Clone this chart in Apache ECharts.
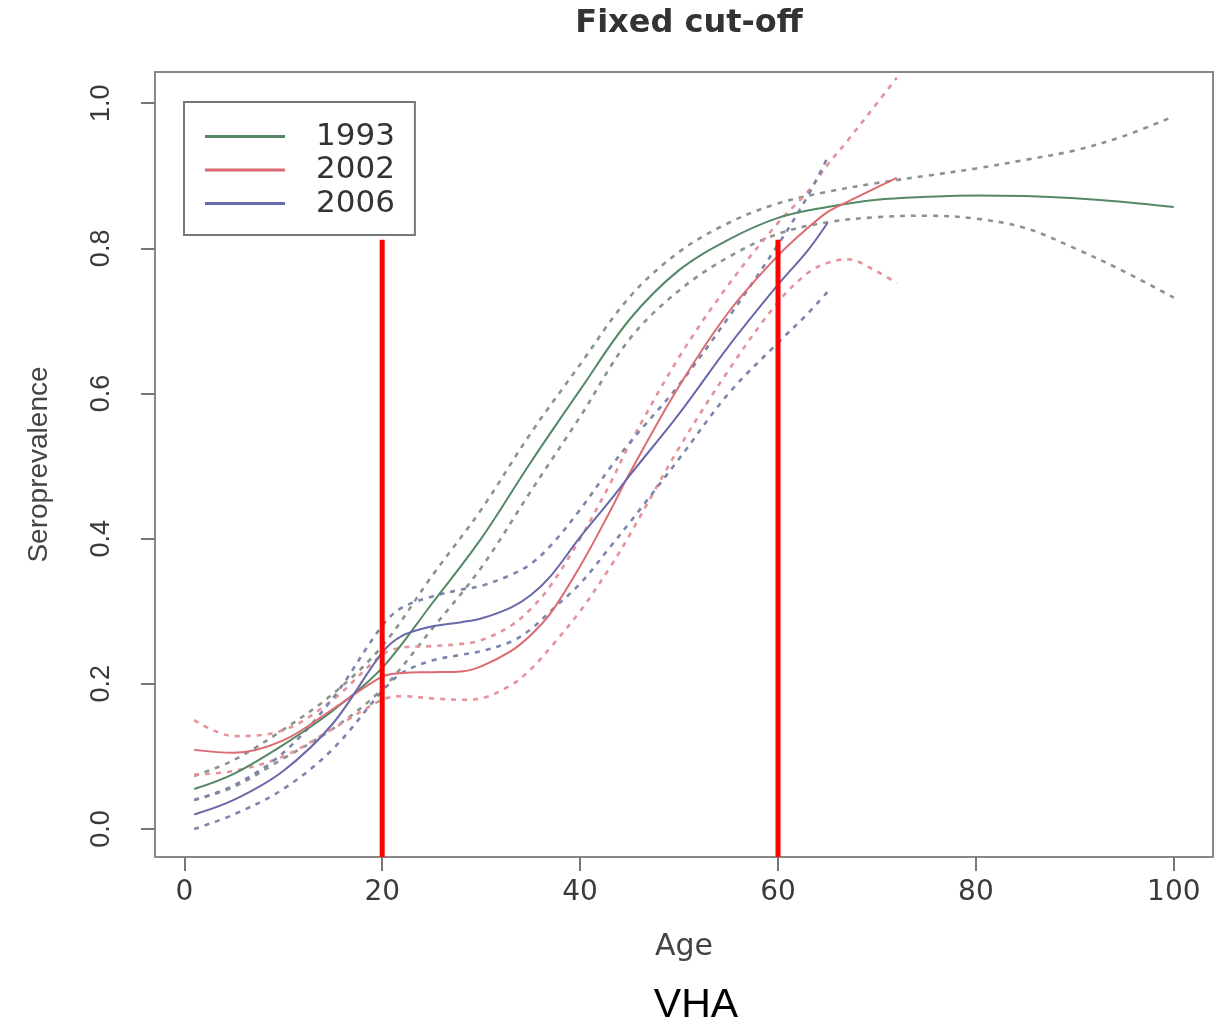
<!DOCTYPE html>
<html>
<head>
<meta charset="utf-8">
<script src="https://cdn.jsdelivr.net/npm/echarts@6/dist/echarts.min.js"></script>
<style>
html,body{margin:0;padding:0;background:#fff;}
#chart{width:1228px;height:1022px;}
</style>
</head>
<body>
<div id="chart"></div>
<script>
// ---- data ----
const xTicks = [0, 20, 40, 60, 80, 100];
const yTicks = [0, 0.2, 0.4, 0.6, 0.8, 1.0];
const cutOffs = [20, 60];
const cutOffTop = 0.812;

const ages1993  = [1, 5, 10, 15, 20, 25, 30, 35, 40, 45, 50, 55, 60, 65, 70, 75, 80, 85, 90, 95, 100];
const fit1993   = [0.055, 0.076, 0.116, 0.163, 0.222, 0.31, 0.40, 0.505, 0.605, 0.702, 0.77, 0.812, 0.842, 0.857, 0.867, 0.871, 0.873, 0.872, 0.869, 0.864, 0.857];
const upper1993 = [0.073, 0.095, 0.137, 0.186, 0.252, 0.348, 0.44, 0.545, 0.64, 0.733, 0.795, 0.835, 0.862, 0.878, 0.89, 0.9, 0.91, 0.922, 0.935, 0.955, 0.982];
const lower1993 = [0.040, 0.058, 0.097, 0.138, 0.193, 0.275, 0.36, 0.465, 0.568, 0.675, 0.742, 0.788, 0.82, 0.836, 0.843, 0.845, 0.841, 0.828, 0.80, 0.768, 0.732];

const ages2002  = [1, 5, 10, 15, 20, 22, 25, 28, 30, 33, 35, 37, 40, 43, 45, 50, 55, 60, 63, 65, 67, 70, 72];
const fit2002   = [0.109, 0.105, 0.122, 0.165, 0.21, 0.215, 0.216, 0.217, 0.224, 0.245, 0.267, 0.297, 0.362, 0.437, 0.49, 0.61, 0.712, 0.79, 0.828, 0.85, 0.864, 0.884, 0.897];
const upper2002 = [0.15, 0.128, 0.136, 0.178, 0.24, 0.25, 0.252, 0.255, 0.26, 0.28, 0.303, 0.335, 0.40, 0.475, 0.53, 0.65, 0.75, 0.835, 0.878, 0.915, 0.948, 1.0, 1.035];
const lower2002 = [0.075, 0.08, 0.10, 0.138, 0.178, 0.183, 0.18, 0.178, 0.18, 0.198, 0.22, 0.25, 0.30, 0.36, 0.405, 0.525, 0.632, 0.726, 0.766, 0.78, 0.785, 0.768, 0.752];

const ages2006  = [1, 5, 10, 15, 20, 22, 25, 28, 30, 33, 35, 37, 40, 43, 45, 50, 55, 60, 63, 65];
const fit2006   = [0.02, 0.04, 0.08, 0.145, 0.243, 0.266, 0.279, 0.285, 0.29, 0.305, 0.322, 0.348, 0.402, 0.452, 0.487, 0.572, 0.665, 0.75, 0.797, 0.835];
const upper2006 = [0.04, 0.06, 0.105, 0.18, 0.28, 0.305, 0.32, 0.33, 0.335, 0.35, 0.365, 0.39, 0.44, 0.497, 0.532, 0.612, 0.705, 0.805, 0.872, 0.925];
const lower2006 = [0.0, 0.02, 0.055, 0.11, 0.19, 0.215, 0.232, 0.24, 0.245, 0.258, 0.275, 0.3, 0.338, 0.388, 0.422, 0.51, 0.6, 0.67, 0.71, 0.74];

// ---- styling ----
const X_MIN = -2.96, X_MAX = 103.96;
const Y_MIN = -0.0386, Y_MAX = 1.043;
const C93 = '#558866', C02 = '#dc6a70', C06 = '#6868aa';
const C93ci = '#8a948e', C02ci = '#e4939a', C06ci = '#7d85ab';

function pairs(xs, ys) { return xs.map((x, i) => [x, ys[i]]); }

function fitSeries(name, xs, ys, color) {
  return {
    name: name, type: 'line', data: pairs(xs, ys), smooth: 0.35,
    symbol: 'none', silent: true, z: 4,
    lineStyle: { color: color, width: 2 }, itemStyle: { color: color }
  };
}
function ciSeries(name, xs, ys, color) {
  return {
    name: name, type: 'line', data: pairs(xs, ys), smooth: 0.35,
    symbol: 'none', silent: true, z: 3,
    lineStyle: { color: color, width: 2.6, type: [5, 6] }, itemStyle: { color: color }
  };
}

const series = [
  ciSeries('1993 upper', ages1993, upper1993, C93ci),
  ciSeries('1993 lower', ages1993, lower1993, C93ci),
  ciSeries('2002 upper', ages2002, upper2002, C02ci),
  ciSeries('2002 lower', ages2002, lower2002, C02ci),
  ciSeries('2006 upper', ages2006, upper2006, C06ci),
  ciSeries('2006 lower', ages2006, lower2006, C06ci),
  fitSeries('1993', ages1993, fit1993, C93),
  fitSeries('2002', ages2002, fit2002, C02),
  fitSeries('2006', ages2006, fit2006, C06)
];
cutOffs.forEach((c, i) => {
  series.push({
    name: 'cut' + i, type: 'line', data: [[c, Y_MIN], [c, cutOffTop]],
    symbol: 'none', silent: true, z: 10,
    lineStyle: { color: '#ff0000', width: 5 }
  });
});

const chart = echarts.init(document.getElementById('chart'), null, { renderer: 'canvas' });
chart.setOption({
  backgroundColor: '#ffffff',
  animation: false,
  title: [
    { text: 'Fixed cut-off', left: 684, top: 3, textAlign: 'center',
      textStyle: { fontFamily: 'DejaVu Sans', fontWeight: 'bold', fontSize: 32, color: '#333' } },
    { text: 'VHA', left: 691, top: 980, textAlign: 'center',
      textStyle: { fontFamily: 'Liberation Sans', fontWeight: 'normal', fontSize: 41, color: '#000' } }
  ],
  legend: {
    data: ['1993', '2002', '2006'],
    orient: 'vertical', left: 184, top: 102,
    padding: [19, 20, 16, 21],
    icon: 'rect',
    itemWidth: 80, itemHeight: 3, itemGap: 2.5,
    borderColor: '#777', borderWidth: 2, borderRadius: 0, backgroundColor: '#fff',
    selectedMode: false,
    textStyle: { fontFamily: 'DejaVu Sans', fontSize: 31, color: '#333', lineHeight: 31, padding: [0, 0, 0, 26] }
  },
  grid: { left: 155, right: 15, top: 72, bottom: 165, show: true, borderColor: '#888', borderWidth: 2, backgroundColor: 'transparent' },
  xAxis: {
    type: 'value', min: X_MIN, max: X_MAX,
    name: 'Age', nameLocation: 'middle', nameGap: 75,
    nameTextStyle: { fontFamily: 'DejaVu Sans', fontSize: 30, color: '#444' },
    axisLine: { show: false, onZero: false },
    splitLine: { show: false },
    axisTick: { show: true, length: 14, customValues: xTicks, lineStyle: { color: '#777', width: 2 } },
    axisLabel: { customValues: xTicks, margin: 22, fontFamily: 'DejaVu Sans', fontSize: 28, color: '#3a3a3a' }
  },
  yAxis: {
    type: 'value', min: Y_MIN, max: Y_MAX,
    name: 'Seroprevalence', nameLocation: 'middle', nameGap: 102, nameRotate: 90,
    nameTextStyle: { fontFamily: 'Liberation Sans', fontSize: 28, color: '#444' },
    axisLine: { show: false, onZero: false },
    splitLine: { show: false },
    axisTick: { show: true, length: 14, customValues: yTicks, lineStyle: { color: '#777', width: 2 } },
    axisLabel: { customValues: yTicks, rotate: 90, margin: 40, fontFamily: 'Liberation Sans', fontSize: 27, color: '#3a3a3a',
      formatter: v => v.toFixed(1) }
  },
  series: series
});
</script>
</body>
</html>
